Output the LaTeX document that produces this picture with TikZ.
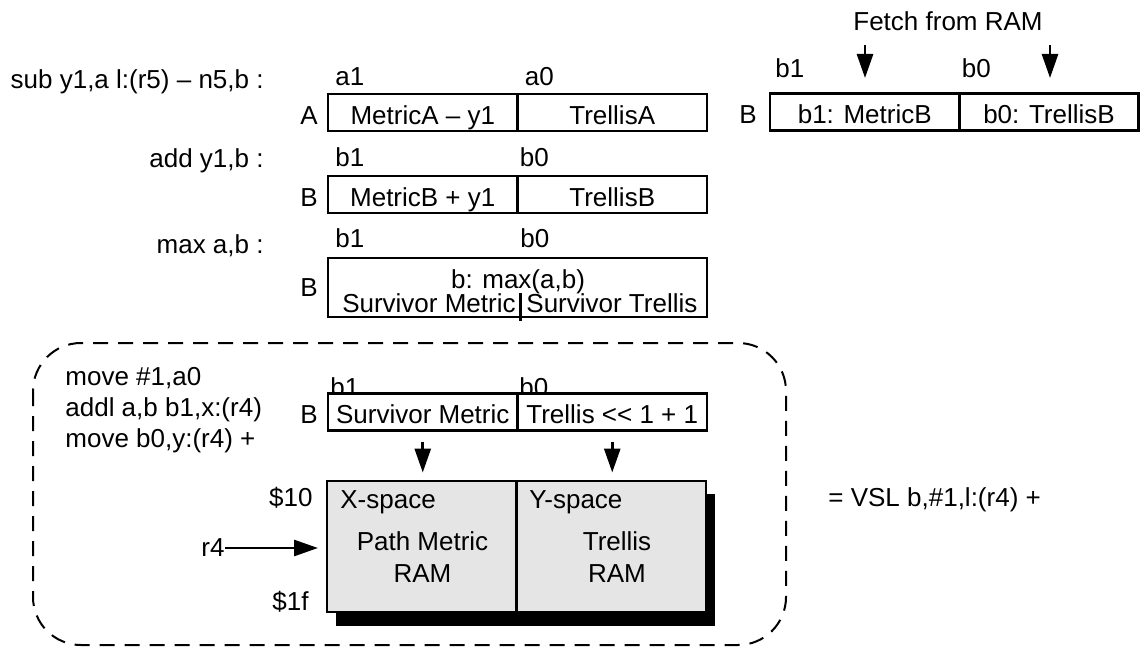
\documentclass[tikz,border=0pt]{standalone}
\usepackage{fontspec}
\setmainfont{Liberation Sans}
\usetikzlibrary{positioning,arrows.meta}

\begin{document}
\begin{tikzpicture}[
  x=0.5pt, y=-0.5pt, font=\fontsize{13}{15.5}\selectfont,
  lbl/.style={inner sep=0pt},
  half/.style={draw, line width=1.4pt, inner sep=0pt, outer sep=0pt,
    minimum width=94.75pt, minimum height=18.5pt, text height=12pt, text depth=0.5pt},
  ram/.style={draw, line width=1.4pt, fill=black!10, inner sep=0pt, outer sep=0pt,
    minimum width=94.75pt, minimum height=65.5pt},
  arr/.style={line width=1.4pt, -{Triangle[length=12pt,width=8pt]}},
]
\useasboundingbox (0,0) rectangle (1143,647);

  % sub: register A, and B fetched from RAM
  \node[lbl, anchor=base east] (subop) at (264,89) {sub y1,a l:(r5) -- n5,b :};
  \node[half, anchor=west] (ahi) at (328,112.5) {MetricA -- y1};
  \node[half, right=0pt of ahi] (alo) {TrellisA};
  \node[lbl, anchor=base east] (aname) at ([xshift=-5pt]ahi.base west) {A};
  \node[lbl, anchor=base west] at ([xshift=3.5pt,yshift=4.5pt]ahi.north west) {a1};
  \node[lbl, anchor=base west] at ([xshift=3.5pt,yshift=4.5pt]alo.north west) {a0};

  \node[half, anchor=west] (fhi) at (770,112) {b1: MetricB};
  \node[half, right=0pt of fhi, minimum width=89.5pt] (flo) {b0: TrellisB};
  \node[lbl, anchor=base east] (fname) at ([xshift=-6.5pt]fhi.base west) {B};
  \node[lbl, anchor=base west] at ([xshift=2.5pt,yshift=8pt]fhi.north west) {b1};
  \node[lbl, anchor=base west] at ([xshift=1pt,yshift=8pt]flo.north west) {b0};
  \node[lbl, anchor=base] (fetch) at (948,31) {Fetch from RAM};
  \coordinate (f1) at (865,45);
  \coordinate (f0) at (1050,45);
  \draw[arr] (f1) -- ++(0,33);
  \draw[arr] (f0) -- ++(0,33);

  % add
  \node[lbl, anchor=base east] (addop) at (264,167) {add y1,b :};
  \node[half, anchor=west] (bhi) at (328,194.5) {MetricB + y1};
  \node[half, right=0pt of bhi] (blo) {TrellisB};
  \node[lbl, anchor=base east] at ([xshift=-5pt]bhi.base west) {B};
  \node[lbl, anchor=base west] at ([xshift=3.5pt,yshift=5pt]bhi.north west) {b1};
  \node[lbl, anchor=base west] at ([xshift=1pt,yshift=5pt]blo.north west) {b0};

  % max
  \node[lbl, anchor=base east] (maxop) at (264,253) {max a,b :};
  \node[half, anchor=west, minimum width=189.5pt, minimum height=29.5pt] (mx) at (328,287.5) {};
  \node[lbl, left=5pt of mx] {B};
  \node[lbl, anchor=base west] at ([xshift=3.5pt,yshift=5.5pt]mx.north west) {b1};
  \node[lbl, anchor=base west] at ([xshift=96pt,yshift=5.5pt]mx.north west) {b0};
  \node[lbl, anchor=base] (mxt) at (518,288) {b: max(a,b)};
  \node[lbl, anchor=base east] (smet) at (516,312) {Survivor Metric};
  \node[lbl, anchor=base west] (stre) at (526,312) {Survivor Trellis};
  \draw[line width=1.4pt] ([xshift=1.6pt,yshift=12pt]mx.south) -- ([xshift=1.6pt,yshift=-2pt]mx.south);

  % VSL
  \draw[dashed, line width=1pt, dash pattern=on 7.5pt off 5pt, rounded corners=24pt]
    (33,343) rectangle (786,645);
  \node[lbl, align=left, anchor=north west] (code) at (65,366.5)
    {move \#1,a0\\addl a,b b1,x:(r4)\\move b0,y:(r4) +};
  \node[lbl, anchor=base west] at (330,396) {b1};
  \node[lbl, anchor=base west] at (519,396) {b0};
  \node[half, fill=white, anchor=west] (shi) at (328,412) {Survivor Metric};
  \node[half, fill=white, right=0pt of shi] (slo) {Trellis <{}< 1 + 1};
  \node[lbl, anchor=base east] at ([xshift=-5pt]shi.base west) {B};
  \draw[arr] ([yshift=-5.5pt]shi.south) -- ([yshift=-21pt]shi.south);
  \draw[arr] ([yshift=-5.5pt]slo.south) -- ([yshift=-21pt]slo.south);

  \fill (336,494) rectangle (715,626);
  \node[ram, anchor=north west] (xram) at (327,481) {};
  \node[ram, right=0pt of xram] (yram) {};
  \node[lbl, anchor=base west] at (340,508) {X-space};
  \node[lbl, anchor=base west] at (529,508) {Y-space};
  \node[lbl, align=center, font=\fontsize{13}{16}\selectfont] at (422.5,556.7) {Path Metric\\RAM};
  \node[lbl, align=center, font=\fontsize{13}{16}\selectfont] at (617,556.7) {Trellis\\RAM};
  \node[lbl, anchor=base east] at (313,506) {\$10};
  \node[lbl, anchor=base east] at (309,610) {\$1f};
  \node[lbl, anchor=east] (r4) at (225,548) {r4};
  \draw[arr] (r4.east) -- ([xshift=-4.5pt]r4.east -| xram.west);

  \node[lbl, anchor=base west] (vsl) at (828,506) {= VSL b,\#1,l:(r4) +};
\end{tikzpicture}
\end{document}
